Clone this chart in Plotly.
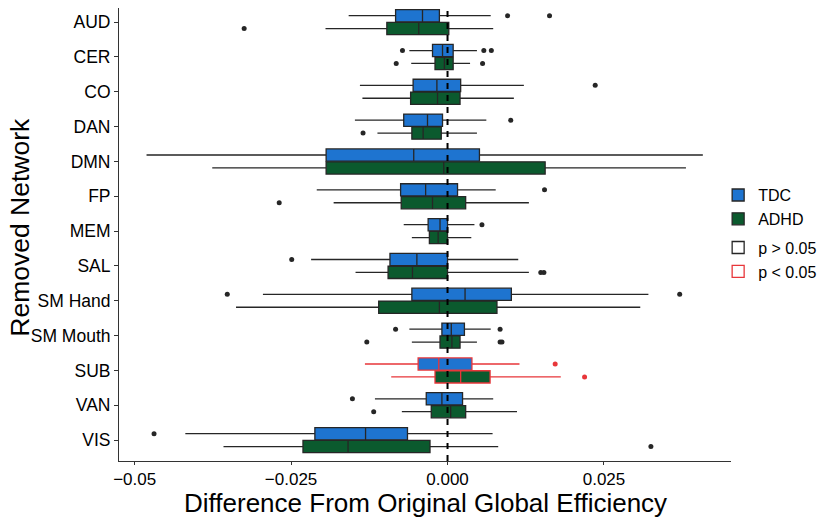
import plotly.graph_objects as go

# removed networks, top to bottom
networks = ["AUD", "CER", "CO", "DAN", "DMN", "FP", "MEM", "SAL",
            "SM Hand", "SM Mouth", "SUB", "VAN", "VIS"]

# group difference significant? (drawn in red)
significant = [False, False, False, False, False, False, False, False,
               False, False, True, False, False]

# TDC box stats
tdc_lower = [-0.0158, -0.0061, -0.0140, -0.0148, -0.0481, -0.0209, -0.0070,
             -0.0218, -0.0295, -0.0061, -0.0132, -0.0116, -0.0419]
tdc_q1 = [-0.0083, -0.0024, -0.0055, -0.0070, -0.0194, -0.0075, -0.0031,
          -0.0092, -0.0057, -0.0009, -0.0047, -0.0034, -0.0212]
tdc_median = [-0.0040, -0.0008, -0.0017, -0.0032, -0.0054, -0.0035, -0.0012,
              -0.0049, 0.0028, 0.0006, -0.0014, -0.0009, -0.0131]
tdc_q3 = [-0.0013, 0.0009, 0.0021, -0.0008, 0.0051, 0.0016, 0.0000,
          0.0000, 0.0102, 0.0027, 0.0039, 0.0024, -0.0064]
tdc_upper = [0.0069, 0.0047, 0.0122, 0.0062, 0.0408, 0.0077, 0.0043,
             0.0113, 0.0321, 0.0069, 0.0115, 0.0073, 0.0072]
tdc_outliers = [[0.0096, 0.0163], [-0.0072, 0.0058, 0.0070], [0.0236], [0.0101],
                [], [0.0155], [0.0055], [-0.0249], [-0.0352, 0.0371],
                [-0.0083, 0.0084], [0.0172], [-0.0152], [-0.0469]]

# ADHD box stats
adhd_lower = [-0.0195, -0.0058, -0.0136, -0.0112, -0.0376, -0.0182, -0.0057,
              -0.0147, -0.0338, -0.0057, -0.0090, -0.0073, -0.0358]
adhd_q1 = [-0.0097, -0.0020, -0.0059, -0.0057, -0.0194, -0.0074, -0.0029,
           -0.0095, -0.0110, -0.0012, -0.0020, -0.0026, -0.0231]
adhd_median = [-0.0046, -0.0005, -0.0016, -0.0039, -0.0006, -0.0024, -0.0015,
               -0.0056, -0.0013, 0.0007, 0.0021, 0.0005, -0.0159]
adhd_q3 = [0.0002, 0.0009, 0.0020, -0.0010, 0.0156, 0.0029, 0.0000,
           0.0000, 0.0079, 0.0020, 0.0068, 0.0029, -0.0028]
adhd_upper = [0.0073, 0.0036, 0.0106, 0.0047, 0.0381, 0.0130, 0.0038,
              0.0130, 0.0308, 0.0047, 0.0181, 0.0111, 0.0081]
adhd_outliers = [[-0.0325], [-0.0082, 0.0056], [], [-0.0135], [], [-0.0269], [],
                 [0.0149, 0.0154], [], [-0.0129, 0.0084, 0.0087], [0.0219],
                 [-0.0118], [0.0325]]

x_ticks = [-0.05, -0.025, 0.0, 0.025]
x_tick_labels = ["\u22120.05", "\u22120.025", "0.000", "0.025"]

FONT = "Liberation Sans, Arial, sans-serif"
BLUE = "#1E74D0"
GREEN = "#0B5A2E"
OUTLINE = "#262626"
RED = "#E8363A"

groups = [
    ("TDC", BLUE, tdc_lower, tdc_q1, tdc_median, tdc_q3, tdc_upper, tdc_outliers),
    ("ADHD", GREEN, adhd_lower, adhd_q1, adhd_median, adhd_q3, adhd_upper, adhd_outliers),
]

fig = go.Figure()

for name, fill, lo, q1, med, q3, up, outl in groups:
    for sig in (False, True):
        idx = [i for i, s in enumerate(significant) if s == sig]
        col = RED if sig else OUTLINE
        fig.add_trace(go.Box(
            name=name,
            orientation="h",
            y=[networks[i] for i in idx],
            x=[outl[i] for i in idx],
            q1=[q1[i] for i in idx],
            median=[med[i] for i in idx],
            q3=[q3[i] for i in idx],
            lowerfence=[lo[i] for i in idx],
            upperfence=[up[i] for i in idx],
            boxpoints="outliers",
            jitter=0,
            pointpos=0,
            fillcolor=fill,
            line=dict(color=col, width=1.3),
            marker=dict(color=col, size=5),
            whiskerwidth=0,
            offsetgroup=name,
            alignmentgroup="all",
            legend="legend",
            showlegend=not sig,
            hoverinfo="skip",
        ))

# legend keys for the outline colour
for label, col in (("p > 0.05", OUTLINE), ("p < 0.05", RED)):
    fig.add_trace(go.Box(
        name=label,
        orientation="h",
        x=[None],
        fillcolor="white",
        line=dict(color=col, width=1.3),
        offsetgroup="TDC",
        alignmentgroup="all",
        legend="legend2",
        showlegend=True,
    ))

fig.add_vline(x=0, line=dict(color="black", width=2, dash="6px,6px"))

# axis titles
fig.add_annotation(text="Difference From Original Global Efficiency",
                   xref="paper", yref="paper", x=0.5, y=-0.092,
                   xanchor="center", yanchor="middle", showarrow=False,
                   font=dict(size=26))
fig.add_annotation(text="Removed Network", textangle=-90,
                   xref="paper", yref="paper", x=-0.162, y=0.517,
                   xanchor="center", yanchor="middle", showarrow=False,
                   font=dict(size=26.5))

legend_style = dict(
    x=0.979, xanchor="left", yanchor="top",
    font=dict(size=16),
    itemwidth=30,
    bgcolor="rgba(0,0,0,0)",
    itemclick=False,
    itemdoubleclick=False,
)

fig.update_layout(
    width=817,
    height=510,
    margin=dict(l=111, r=94, t=0, b=57),
    paper_bgcolor="white",
    plot_bgcolor="white",
    font=dict(family=FONT, color="black", size=17.5),
    boxmode="group",
    boxgap=0.26,
    boxgroupgap=0.05,
    legend=dict(legend_style, y=0.6245),
    legend2=dict(legend_style, y=0.5086),
    xaxis=dict(
        range=[-0.0525, 0.0453],
        tickvals=x_ticks,
        ticktext=x_tick_labels,
        tickfont=dict(size=17),
        showgrid=False,
        zeroline=False,
        showline=True,
        linecolor="#333333",
        linewidth=1,
        ticks="outside",
        ticklen=3,
        tickcolor="#333333",
    ),
    yaxis=dict(
        type="category",
        categoryorder="array",
        categoryarray=networks,
        range=[len(networks) - 0.4, -0.406],
        showgrid=False,
        zeroline=False,
        showline=True,
        linecolor="#333333",
        linewidth=1,
        ticks="outside",
        ticklen=4,
        tickcolor="#333333",
    ),
)

fig.write_html("out.html")
